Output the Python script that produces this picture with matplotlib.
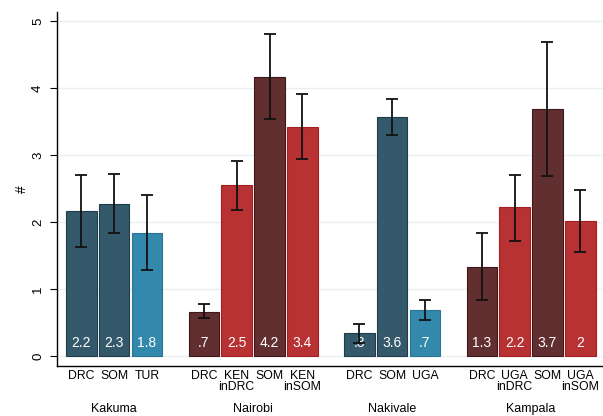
import matplotlib.pyplot as plt
import matplotlib.transforms as mtransforms

plt.rcParams['font.family'] = ['Liberation Sans', 'DejaVu Sans']

# Data
groups = ["Kakuma", "Nairobi", "Nakivale", "Kampala"]
bar_labels = [["DRC", "SOM", "TUR"],
              ["DRC", "KEN\ninDRC", "SOM", "KEN\ninSOM"],
              ["DRC", "SOM", "UGA"],
              ["DRC", "UGA\ninDRC", "SOM", "UGA\ninSOM"]]
means = [[2.17, 2.27, 1.84],
         [0.66, 2.55, 4.17, 3.42],
         [0.35, 3.57, 0.68],
         [1.33, 2.22, 3.69, 2.02]]
ci_low = [[1.63, 1.83, 1.28],
          [0.56, 2.18, 3.54, 2.94],
          [0.20, 3.30, 0.53],
          [0.84, 1.72, 2.68, 1.55]]
ci_high = [[2.70, 2.72, 2.40],
           [0.77, 2.91, 4.80, 3.91],
           [0.48, 3.84, 0.83],
           [1.83, 2.70, 4.69, 2.47]]
value_text = [["2.2", "2.3", "1.8"],
              [".7", "2.5", "4.2", "3.4"],
              [".3", "3.6", ".7"],
              ["1.3", "2.2", "3.7", "2"]]

teal_dark = "#34596a"
teal_light = "#3389ab"
red_dark = "#622f30"
red = "#b83234"
colors = [[teal_dark, teal_dark, teal_light],
          [red_dark, red, red_dark, red],
          [teal_dark, teal_dark, teal_light],
          [red_dark, red, red_dark, red]]
edges = {teal_dark: "#1f3c49", teal_light: "#2a7595", red_dark: "#3f1718", red: "#a51f22"}

fig = plt.figure(figsize=[6.03, 4.16], dpi=100)
ax = fig.add_axes([0.094, 0.121, 0.906, 0.851])

gap = 1.73
start = 0.0
trans = mtransforms.blended_transform_factory(ax.transData, ax.transAxes)
xticks, xlabels = [], []
for g in range(len(groups)):
    n = len(means[g])
    xs = [start + i for i in range(n)]
    for i in range(n):
        c = colors[g][i]
        ax.bar(xs[i], means[g][i], width=0.93, color=c, edgecolor=edges[c],
               linewidth=0.8, zorder=2)
        ax.text(xs[i], 0.2, value_text[g][i], color="white", ha="center",
                va="center", fontsize=10, zorder=3)
        ax.errorbar(xs[i], means[g][i],
                    yerr=[[means[g][i] - ci_low[g][i]], [ci_high[g][i] - means[g][i]]],
                    fmt="none", ecolor="#111111", elinewidth=1.3, capsize=4,
                    capthick=1.3, zorder=4)
    xticks += xs
    xlabels += bar_labels[g]
    ax.text((xs[0] + xs[-1]) / 2, -0.122, groups[g], transform=trans,
            ha="center", va="center", fontsize=9)
    start = xs[-1] + gap

ax.set_xticks(xticks)
ax.set_xticklabels(xlabels, fontsize=8.8, linespacing=0.95, va="top")
ax.tick_params(axis="x", length=0, pad=3)
ax.set_xlim(-0.75, 15.88)
ax.set_ylim(-0.145, 5.14)
ax.set_yticks([0, 1, 2, 3, 4, 5])
ax.set_yticklabels(["0", "1", "2", "3", "4", "5"], rotation=90, va="center",
                   fontsize=9.5)
ax.tick_params(axis="y", length=5, width=0.8, pad=4)
ax.set_ylabel("#", fontsize=10, labelpad=2)
ax.grid(axis="y", color="#e8f0f1", linewidth=1.0, zorder=0)
ax.set_axisbelow(True)
for s in ["top", "right"]:
    ax.spines[s].set_visible(False)
ax.spines["left"].set_linewidth(1.0)
ax.spines["bottom"].set_linewidth(1.0)

fig.savefig("out.png", dpi=100)
